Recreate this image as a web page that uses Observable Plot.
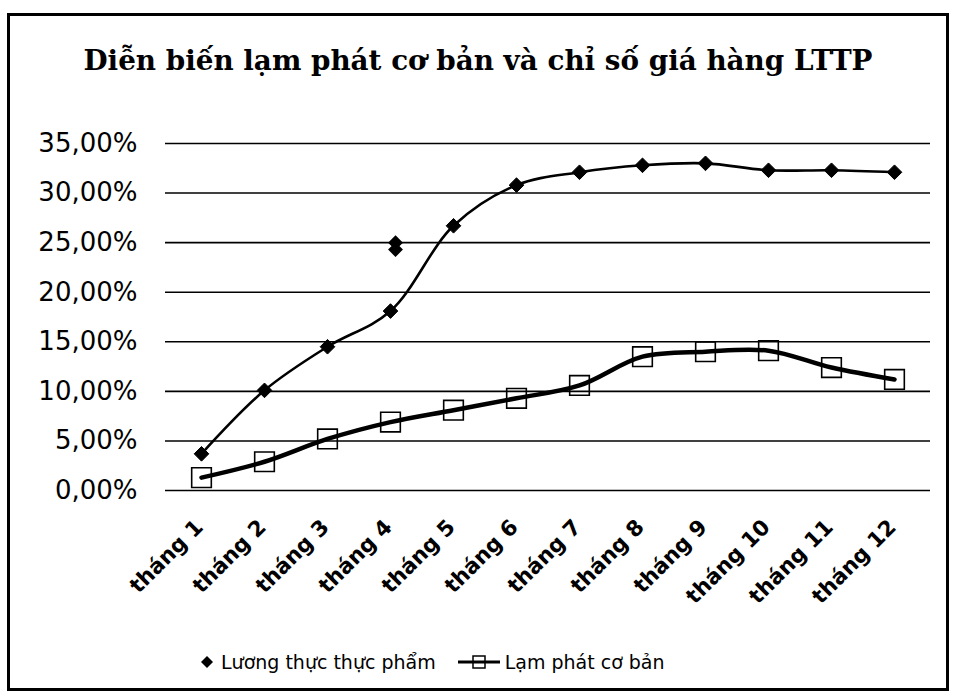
<!DOCTYPE html>
<html>
<head>
<meta charset="utf-8">
<script src="https://cdn.jsdelivr.net/npm/d3@7"></script>
<script src="https://cdn.jsdelivr.net/npm/@observablehq/plot@0.6"></script>
<style>
  html, body { margin: 0; padding: 0; background: #fff; }
  body { width: 956px; height: 698px; position: relative; overflow: hidden; }
  #frame { position: absolute; left: 7px; top: 13px; width: 936px; height: 672px; border: 3px solid #000; box-sizing: content-box; pointer-events: none; }
  #title { position: absolute; left: 0; width: 956px; top: 44px; text-align: center; font-family: "DejaVu Serif", serif; font-weight: bold; font-size: 27.8px; color: #000; }
  #chart { position: absolute; left: 0; top: 100px; }
  #legend { position: absolute; left: 196px; top: 651px; display: flex; align-items: center; font-family: "DejaVu Sans", sans-serif; font-size: 19px; color: #000; }
  #legend .item { display: flex; align-items: center; margin-right: 20px; }
  #legend svg { margin-right: 3px; }
</style>
</head>
<body>
<div id="title">Diễn biến lạm phát cơ bản và chỉ số giá hàng LTTP</div>
<div id="chart"></div>
<div id="legend"></div>
<div id="frame"></div>
<script>
const months = ["tháng 1","tháng 2","tháng 3","tháng 4","tháng 5","tháng 6","tháng 7","tháng 8","tháng 9","tháng 10","tháng 11","tháng 12"];
const foodValues = [3.7, 10.1, 14.5, 18.1, 26.7, 30.8, 32.1, 32.8, 33.0, 32.3, 32.3, 32.1];
const coreValues = [1.3, 2.9, 5.2, 6.9, 8.1, 9.3, 10.6, 13.5, 14.0, 14.1, 12.4, 11.2];
const yTicks = [0, 5, 10, 15, 20, 25, 30, 35];
const seriesNames = ["Lương thực thực phẩm", "Lạm phát cơ bản"];
// stray blot near tháng 4 in the scan
const strayMonth = ["tháng 4", "tháng 4"];
const strayValues = [25.0, 24.3];

const food = months.map((m, i) => ({month: m, value: foodValues[i]}));
const core = months.map((m, i) => ({month: m, value: coreValues[i]}));
const stray = strayMonth.map((m, i) => ({month: m, value: strayValues[i]}));

const fmt = v => v.toFixed(2).replace(".", ",") + "%";

const chart = Plot.plot({
  width: 956,
  height: 510,
  marginLeft: 165,
  marginRight: 26,
  marginTop: 43,
  marginBottom: 120,
  style: {background: "transparent", color: "#000"},
  x: {type: "point", domain: months, padding: 0.5, label: null},
  y: {domain: [0, 35], label: null},
  marks: [
    Plot.ruleY(yTicks, {stroke: "#000", strokeWidth: 1.6}),
    Plot.axisY({ticks: yTicks, tickFormat: fmt, tickSize: 0, tickPadding: 28, fontSize: 26, fontFamily: "DejaVu Sans", label: null}),
    Plot.axisX({tickSize: 0, tickPadding: 33, tickRotate: -45, dx: -2, fontSize: 21.5, fontFamily: "DejaVu Sans", fontWeight: "bold", label: null}),
    Plot.line(core, {x: "month", y: "value", stroke: "#000", strokeWidth: 4.5, curve: "catmull-rom"}),
    Plot.dot(core, {x: "month", y: "value", symbol: "square2", r: 12.5, stroke: "#000", strokeWidth: 1.6, fill: "none"}),
    Plot.line(food, {x: "month", y: "value", stroke: "#000", strokeWidth: 2.6, curve: "catmull-rom"}),
    Plot.dot(food, {x: "month", y: "value", symbol: "diamond2", r: 6.6, fill: "#000", stroke: "#000", strokeWidth: 1}),
    Plot.dot(stray, {x: "month", y: "value", symbol: "diamond2", r: 4.8, fill: "#000", stroke: "#000", strokeWidth: 3, dx: 5})
  ]
});
document.getElementById("chart").appendChild(chart);

// legend
const leg = document.getElementById("legend");
leg.innerHTML = `
  <div class="item"><svg width="22" height="20"><path d="M11,4 L17,10 L11,16 L5,10 Z" fill="#000"/></svg><span>${seriesNames[0]}</span></div>
  <div class="item"><svg width="46" height="20"><line x1="2" y1="10" x2="44" y2="10" stroke="#000" stroke-width="3"/><rect x="17" y="4" width="12" height="12" fill="none" stroke="#000" stroke-width="1.5"/></svg><span>${seriesNames[1]}</span></div>`;
</script>
</body>
</html>
